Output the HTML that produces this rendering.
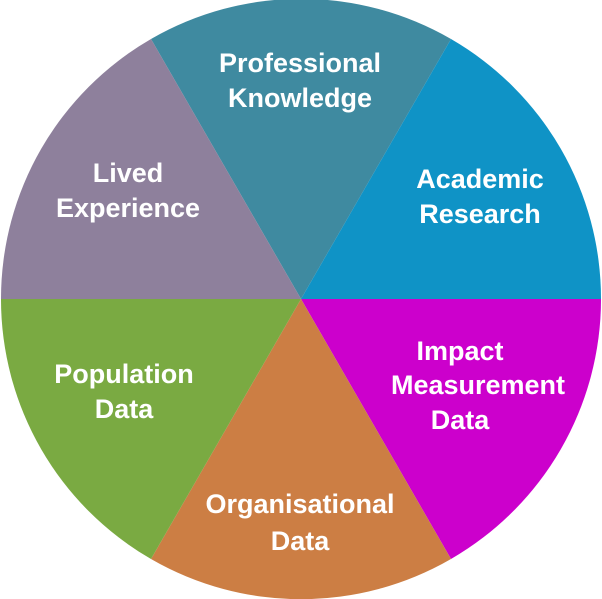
<!DOCTYPE html>
<html><head><meta charset="utf-8"><style>
html,body{margin:0;padding:0;background:#fff;}
svg{display:block;}
text{font-family:"Liberation Sans",sans-serif;font-weight:bold;font-size:27px;fill:#fff;text-anchor:middle;}
</style></head><body>
<svg width="602" height="599" viewBox="0 0 602 599">
<path d="M301,299 L151,39 A300,300 0 0 1 451,39 Z" fill="#3f8aa0"/>
<path d="M301,299 L451,39 A300,300 0 0 1 601,299 Z" fill="#0f93c6"/>
<path d="M301,299 L601,299 A300,300 0 0 1 451,559 Z" fill="#cc00cc"/>
<path d="M301,299 L451,559 A300,300 0 0 1 151,559 Z" fill="#cc7e44"/>
<path d="M301,299 L151,559 A300,300 0 0 1 1,299 Z" fill="#7aaa42"/>
<path d="M301,299 L1,299 A300,300 0 0 1 151,39 Z" fill="#8e809c"/>
<text x="300" y="72">Professional</text>
<text x="300" y="107">Knowledge</text>
<text x="480" y="188">Academic</text>
<text x="480" y="223">Research</text>
<text x="128" y="182">Lived</text>
<text x="128" y="217">Experience</text>
<text x="124" y="383">Population</text>
<text x="124" y="418">Data</text>
<text x="460" y="360">Impact</text>
<text x="478" y="394">Measurement</text>
<text x="460" y="429">Data</text>
<text x="300" y="513">Organisational</text>
<text x="300" y="550">Data</text>
</svg>
</body></html>
